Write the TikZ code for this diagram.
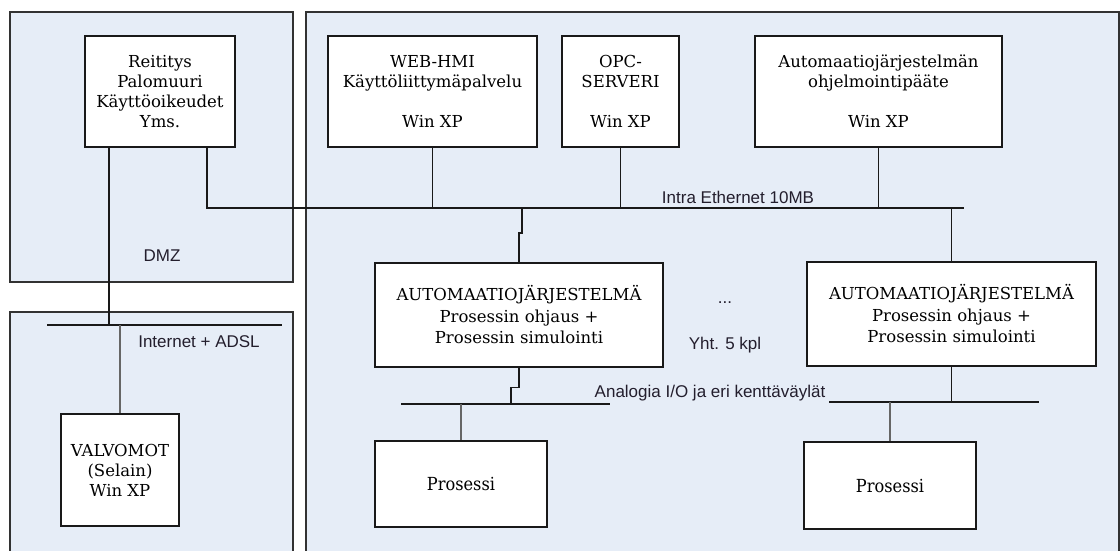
\documentclass[tikz,border=0pt]{standalone}
\usepackage{fontspec}
\setmainfont{DejaVu Serif}
\newfontfamily\labelfont{Liberation Sans}
\newfontfamily\condserif[FakeStretch=0.9]{DejaVu Serif}
\definecolor{panelfill}{RGB}{230,237,247}
\definecolor{panelline}{RGB}{50,50,50}
\definecolor{labeltext}{RGB}{35,30,45}

\begin{document}
\begin{tikzpicture}[x=1pt,y=-1pt,
  panel/.style={draw=panelline, line width=1.5pt, fill=panelfill},
  unit/.style={draw=black!90, line width=1.4pt, fill=white, align=center,
    inner sep=0pt, font=\fontsize{16.5}{20}\selectfont},
  procbox/.style={unit, font=\condserif\fontsize{18}{20}\selectfont},
  wire/.style={line width=1.4pt, draw=black!90},
  tap/.style={line width=1.4pt, draw=black!60},
  lbl/.style={font=\labelfont\fontsize{17}{19}\selectfont, text=labeltext, inner sep=0pt}]

\useasboundingbox (0,0) rectangle (1120,550);
\fill[white] (0,0) rectangle (1120,550);

% zones
\draw[panel] (10,12) rectangle (293,282);
\draw[panel] (10,312) rectangle (293,560);
\draw[panel] (306,12) rectangle (1119,560);

% equipment
\node[unit, minimum width=150, minimum height=111] (rei) at (160,91.5)
  {Reititys\\Palomuuri\\Käyttöoikeudet\\Yms.};
\node[unit, minimum width=209, minimum height=111] (web) at (432.5,91.5)
  {WEB-HMI\\Käyttöliittymäpalvelu\\[20pt]Win XP};
\node[unit, minimum width=117, minimum height=111] (opc) at (620.5,91.5)
  {OPC-\\SERVERI\\[20pt]Win XP};
\node[unit, minimum width=247, minimum height=111] (prog) at (878.5,91.5)
  {Automaatiojärjestelmän\\ohjelmointipääte\\[20pt]Win XP};
\node[unit, minimum width=288, minimum height=104,
  font=\fontsize{16.5}{21.5}\selectfont] (aut1) at (519,315)
  {AUTOMAATIOJÄRJESTELMÄ\\Prosessin ohjaus +\\Prosessin simulointi};
\node[unit, minimum width=289, minimum height=104,
  font=\fontsize{16.5}{21.5}\selectfont] (aut2) at (951.5,314)
  {AUTOMAATIOJÄRJESTELMÄ\\Prosessin ohjaus +\\Prosessin simulointi};
\node[procbox, minimum width=172, minimum height=86] (pro1) at (461,484) {Prosessi};
\node[procbox, minimum width=172, minimum height=87] (pro2) at (890,485.5) {Prosessi};
\node[unit, minimum width=118, minimum height=112] (val) at (120,470)
  {VALVOMOT\\(Selain)\\Win XP};

% bus end points and junctions
\coordinate (inet-l) at (47,325);
\coordinate (inet-r) at (282,325);
\coordinate (inet-j) at (109,325);
\coordinate (eth-l) at (207,208);
\coordinate (eth-r) at (964,208);
\coordinate (eth-j1) at (522,208);
\coordinate (io1-l) at (401,404);
\coordinate (io1-r) at (610,404);
\coordinate (io1-j) at (511,404);
\coordinate (io2-l) at (829,402);
\coordinate (io2-r) at (1039,402);

% buses
\draw[wire] (inet-l) -- (inet-r);
\draw[wire] (rei.south -| eth-l) -- (eth-l) -- (eth-r);
\draw[wire] (io1-l) -- (io1-r);
\draw[wire] (io2-l) -- (io2-r);

% drops
\draw[wire] (rei.south -| inet-j) -- (inet-j);
\draw[tap] (val.north |- inet-l) -- (val.north);
\draw[wire] (web.south) -- (web.south |- eth-l);
\draw[wire] (opc.south) -- (opc.south |- eth-l);
\draw[wire] (prog.south) -- (prog.south |- eth-l);
\draw[wire] (eth-j1) -- ++(0,25) -| (aut1.north);
\draw[wire] (aut2.north |- eth-l) -- (aut2.north);
\draw[wire] (aut1.south) -- ++(0,20) -| (io1-j);
\draw[wire] (aut2.south) -- (aut2.south |- io2-l);
\draw[tap] (pro1.north |- io1-l) -- (pro1.north);
\draw[tap] (pro2.north |- io2-l) -- (pro2.north);

% labels
\node[lbl] (dmz) at (162,256) {DMZ};
\node[lbl] (inet) at (199,342) {Internet + ADSL};
\node[lbl] (eth) at (738,197) {Intra Ethernet 10MB};
\node[lbl] (dots) at (725,303) {...};
\node[lbl] (cnt) at (725,345) {Yht. 5 kpl};
\node[lbl] (io) at (710,393) {Analogia I/O ja eri kenttäväylät};
\end{tikzpicture}
\end{document}
